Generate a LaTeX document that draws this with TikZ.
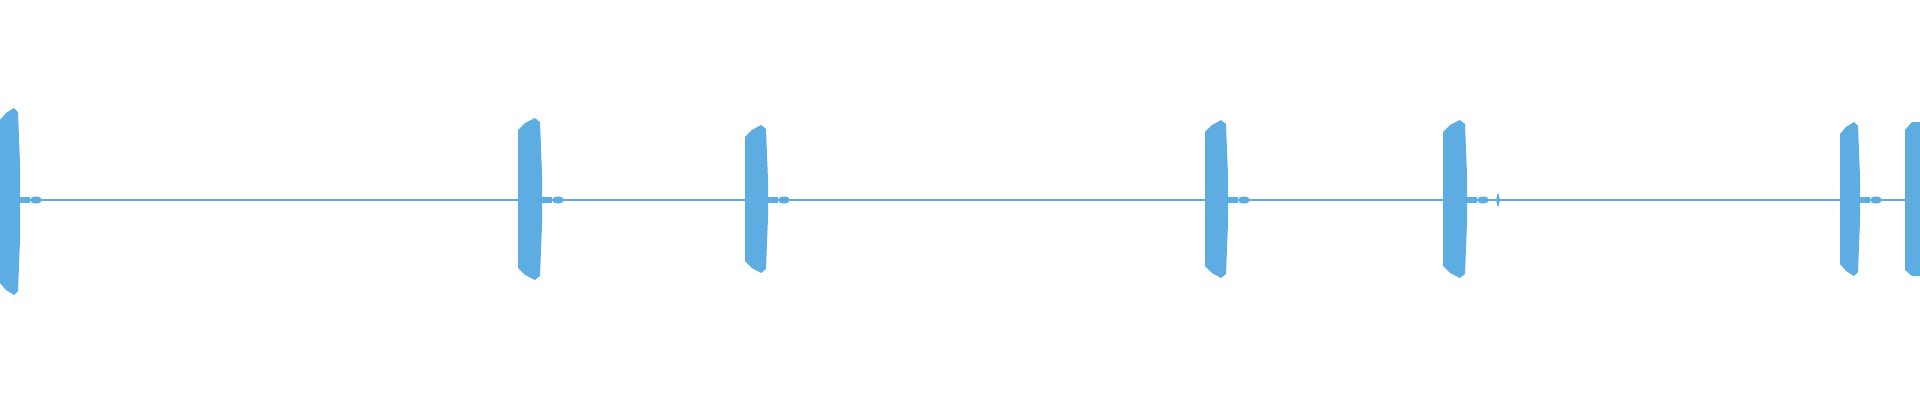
\documentclass[tikz,border=0pt]{standalone}
\usepackage{tikz}
\definecolor{wave}{RGB}{93,173,226}
\tikzset{wave/.style={fill=wave,draw=none},baseline/.style={draw=wave,line width=0.5pt}}
% one burst: x1, x2, top, bottom (pixels)
\newcommand{\burst}[4]{%
\pgfmathsetmacro{\w}{#2-#1}
\fill[wave] (#1,200) -- (#1,#3+12) -- ({#1+0.3*\w},#3+5) -- ({#1+0.7*\w},#3) -- (#2-2,#3+4)
 -- (#2-1,#3+30) -- (#2,#3+55) -- (#2,200) -- (#2,#4-55) -- (#2-1,#4-30) -- (#2-2,#4-4) -- ({#1+0.7*\w},#4)
 -- ({#1+0.3*\w},#4-5) -- (#1,#4-12) -- cycle;
\fill[wave] (#2,197) rectangle (#2+10,203);
\fill[wave] (#2+16,200) ellipse (6 and 3.5);}
\begin{document}
\begin{tikzpicture}[x=0.01cm,y=-0.01cm]
\useasboundingbox (0,0) rectangle (1920,400);
\draw[baseline] (0,200) -- (1920,200);
\foreach \a/\b/\t/\u in {0/20/108/295, 518/542/118/280, 745/768/125/273, 1205/1228/120/278, 1443/1467/120/278, 1840/1860/122/276}
  \burst{\a}{\b}{\t}{\u};
\fill[wave] (1498,192) -- (1500,200) -- (1498,208) -- (1496,200) -- cycle;
\fill[wave] (1905,200) -- (1905,130) -- (1912,122) -- (1920,122) -- (1920,276) -- (1912,276) -- (1905,270) -- cycle;
\end{tikzpicture}
\end{document}
